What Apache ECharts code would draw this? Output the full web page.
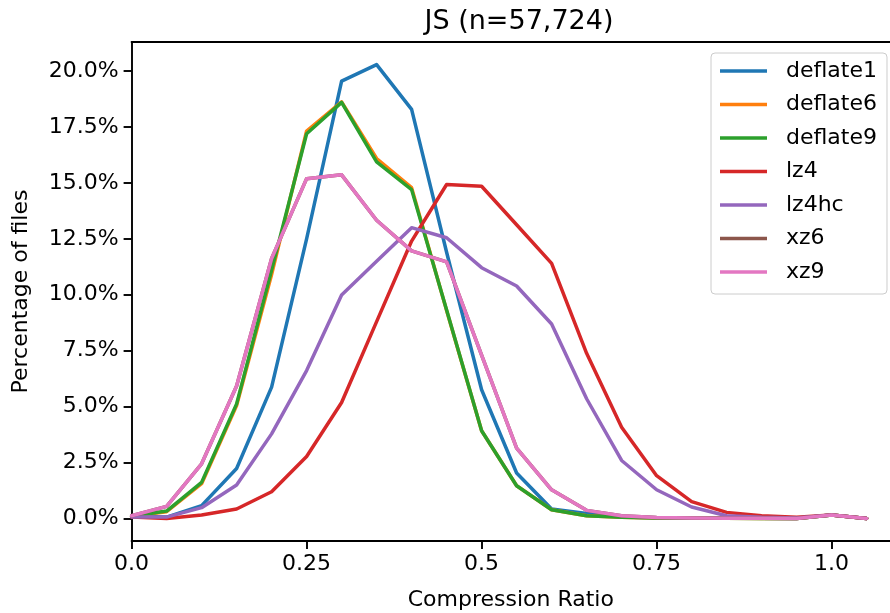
<!DOCTYPE html>
<html>
<head>
<meta charset="utf-8">
<script src="https://cdn.jsdelivr.net/npm/echarts@6/dist/echarts.min.js"></script>
<style>
    html, body {margin: 0; padding: 0; background: #fff;}
    #chart {width: 890px; height: 613px;}
</style>
</head>
<body>
<div id="chart"></div>
<script>
// compression ratio bins
var ratios = [0, 0.05, 0.1, 0.15, 0.2, 0.25, 0.3, 0.35, 0.4, 0.45, 0.5, 0.55, 0.6, 0.65, 0.7, 0.75, 0.8, 0.85, 0.9, 0.95, 1.0, 1.05];

// percentage of files per bin
var deflate1 = [0.1, 0.06, 0.57, 2.23, 5.87, 12.5, 19.55, 20.29, 18.29, 11.9, 5.75, 2.03, 0.42, 0.22, 0.06, 0.03, 0.02, 0.01, 0.01, 0.0, 0.15, 0.0];
var deflate6 = [0.1, 0.3, 1.55, 5.05, 10.9, 17.32, 18.62, 16.09, 14.79, 9.3, 3.92, 1.46, 0.39, 0.12, 0.05, 0.02, 0.01, 0.01, 0.0, 0.0, 0.15, 0.0];
var deflate9 = [0.1, 0.33, 1.61, 5.12, 11.1, 17.2, 18.6, 15.94, 14.7, 9.32, 3.92, 1.46, 0.39, 0.12, 0.05, 0.02, 0.01, 0.01, 0.0, 0.0, 0.15, 0.0];
var lz4 = [0.06, 0.0, 0.15, 0.42, 1.19, 2.77, 5.18, 8.8, 12.4, 14.93, 14.85, 13.13, 11.4, 7.38, 4.08, 1.91, 0.75, 0.27, 0.12, 0.05, 0.15, 0.0];
var lz4hc = [0.06, 0.06, 0.48, 1.49, 3.78, 6.61, 9.99, 11.5, 13.0, 12.55, 11.21, 10.39, 8.69, 5.35, 2.59, 1.28, 0.51, 0.12, 0.05, 0.02, 0.15, 0.0];
var xz6 = [0.12, 0.54, 2.44, 5.92, 11.62, 15.19, 15.36, 13.33, 11.96, 11.47, 7.3, 3.14, 1.28, 0.36, 0.12, 0.04, 0.02, 0.01, 0.01, 0.0, 0.15, 0.0];
var xz9 = [0.12, 0.54, 2.44, 5.92, 11.62, 15.19, 15.36, 13.33, 11.96, 11.47, 7.3, 3.14, 1.28, 0.36, 0.12, 0.04, 0.02, 0.01, 0.01, 0.0, 0.15, 0.0];

var seriesNames = ['deflate1', 'deflate6', 'deflate9', 'lz4', 'lz4hc', 'xz6', 'xz9'];
var seriesValues = [deflate1, deflate6, deflate9, lz4, lz4hc, xz6, xz9];
var colors = ['#1f77b4', '#ff7f0e', '#2ca02c', '#d62728', '#9467bd', '#8c564b', '#e377c2'];

// tick labels
var xTicks = [0, 0.25, 0.5, 0.75, 1.0];
var xTickLabels = ['0.0', '0.25', '0.5', '0.75', '1.0'];
var yTicks = [0, 2.5, 5, 7.5, 10, 12.5, 15, 17.5, 20];
var yTickLabels = ['0.0%', '2.5%', '5.0%', '7.5%', '10.0%', '12.5%', '15.0%', '17.5%', '20.0%'];

var font = 'DejaVu Sans';
var spine = {color: '#000', width: 1.9};

function pairs(values) {
    return ratios.map(function (r, i) {
        return [r, values[i]];
    });
}

var series = seriesNames.map(function (name, i) {
    return {
        name: name,
        type: 'line',
        color: colors[i],
        data: pairs(seriesValues[i]),
        showSymbol: false,
        symbol: 'none',
        lineStyle: {width: 3.5, color: colors[i], cap: 'round', join: 'round'}
    };
});

var chart = echarts.init(document.getElementById('chart'), null, {renderer: 'canvas'});
chart.setOption({
    animation: false,
    backgroundColor: '#fff',
    title: {
        text: 'JS (n=57,724)',
        left: 514,
        textAlign: 'center',
        top: 3,
        textStyle: {fontFamily: font, fontSize: 27, fontWeight: 'normal', color: '#000'}
    },
    legend: {
        orient: 'vertical',
        left: 711,
        top: 53,
        data: seriesNames,
        icon: 'rect',
        itemWidth: 47,
        itemHeight: 3.5,
        itemGap: 11.5,
        padding: [7, 10, 11, 9],
        borderColor: '#cccccc',
        borderWidth: 1,
        borderRadius: 4,
        backgroundColor: 'rgba(255,255,255,0.8)',
        textStyle: {fontFamily: font, fontSize: 22, color: '#000', lineHeight: 22, padding: [0, 0, 0, 14]}
    },
    grid: {
        left: 131.6,
        top: 42,
        width: 758.4,
        height: 499,
        show: false,
        containLabel: false,
        outerBoundsMode: 'none'
    },
    xAxis: [{
        type: 'value',
        min: 0,
        max: 1.0834,
        name: 'Compression Ratio',
        nameLocation: 'middle',
        nameGap: 48,
        nameTextStyle: {fontFamily: font, fontSize: 22, color: '#000'},
        axisLine: {show: true, onZero: false, lineStyle: spine},
        axisTick: {show: true, length: 8, lineStyle: spine, customValues: xTicks},
        axisLabel: {
            fontFamily: font, fontSize: 22, color: '#000', margin: 12,
            customValues: xTicks,
            formatter: function (v) {
                var k = xTicks.indexOf(v);
                return k >= 0 ? xTickLabels[k] : '';
            }
        },
        splitLine: {show: false}
    }, {
        // top spine only
        type: 'value',
        position: 'top',
        min: 0,
        max: 1.0834,
        axisLine: {show: true, onZero: false, lineStyle: spine},
        axisTick: {show: false},
        axisLabel: {show: false},
        splitLine: {show: false}
    }],
    yAxis: {
        type: 'value',
        min: -1.01,
        max: 21.3,
        name: 'Percentage of files',
        nameLocation: 'middle',
        nameGap: 99,
        nameTextStyle: {fontFamily: font, fontSize: 22, color: '#000'},
        axisLine: {show: true, onZero: false, lineStyle: spine},
        axisTick: {show: true, length: 8, lineStyle: spine, customValues: yTicks},
        axisLabel: {
            fontFamily: font, fontSize: 22, color: '#000', margin: 13,
            customValues: yTicks,
            formatter: function (v) {
                var k = yTicks.indexOf(v);
                return k >= 0 ? yTickLabels[k] : '';
            }
        },
        splitLine: {show: false}
    },
    series: series
});
</script>
</body>
</html>
